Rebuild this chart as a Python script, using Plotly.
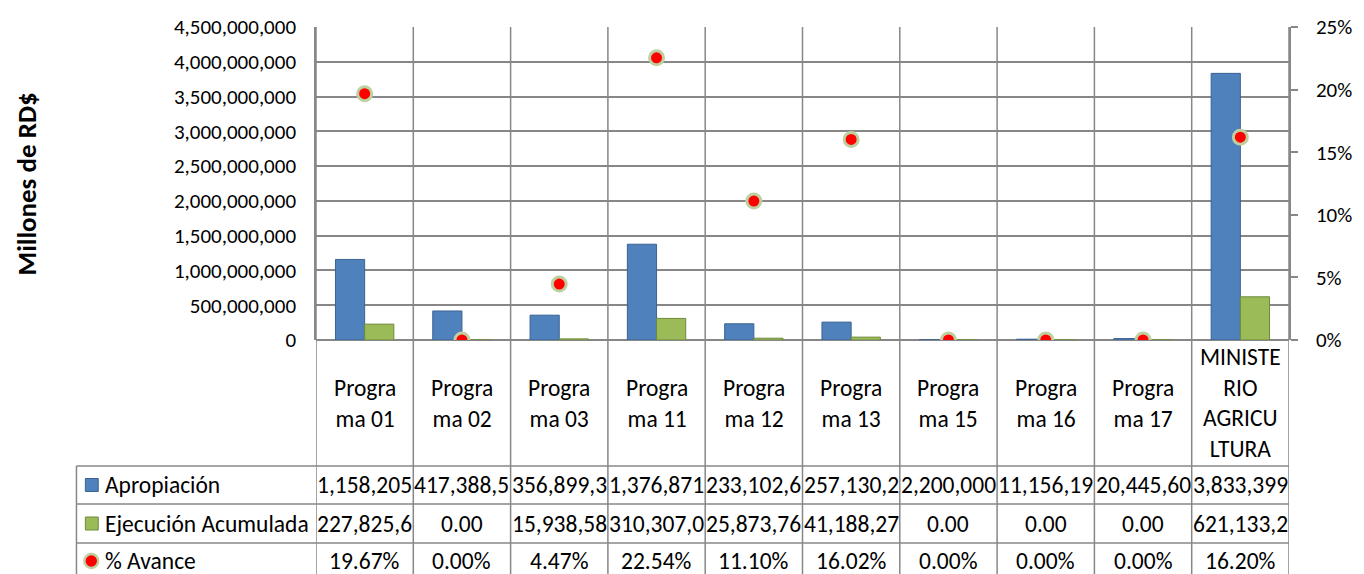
import plotly.graph_objects as go

# ---------------- data ----------------
categories = ["Programa 01", "Programa 02", "Programa 03", "Programa 11", "Programa 12",
              "Programa 13", "Programa 15", "Programa 16", "Programa 17", "MINISTERIO AGRICULTURA"]
header_labels = ["Progra<br>ma 01", "Progra<br>ma 02", "Progra<br>ma 03", "Progra<br>ma 11",
                 "Progra<br>ma 12", "Progra<br>ma 13", "Progra<br>ma 15", "Progra<br>ma 16",
                 "Progra<br>ma 17", "MINISTE<br>RIO<br>AGRICU<br>LTURA"]
apropiacion = [1158205400, 417388500, 356899300, 1376871000, 233102600,
               257130200, 2200000, 11156190, 20445600, 3833399000]
ejecucion = [227825600, 0, 15938580, 310307000, 25873760,
             41188270, 0, 0, 0, 621133200]
avance_pct = [19.67, 0.00, 4.47, 22.54, 11.10, 16.02, 0.00, 0.00, 0.00, 16.20]
series_names = ["Apropiación", "Ejecución Acumulada", "% Avance"]
y_title = "Millones de RD$"

# ---------------- style ----------------
FONT = "Carlito, Calibri, Lato, sans-serif"
GRID = "#878787"
BLUE = "#4F81BD"
BLUE_EDGE = "#3A6393"
GREEN = "#9BBB59"
GREEN_EDGE = "#6F8A3A"
RED = "#FF0000"
RING = "#BFD0A0"
TXT = 23.5
TICK = 21

W, H = 1364, 574
L, R, T, B = 316, 1299, 27, 340          # plot area in px
PW, PH = R - L, B - T


def px_x(X):
    return (X - L) / PW


def px_y(Y):
    return (B - Y) / PH


fig = go.Figure()
fig.add_trace(go.Bar(x=categories, y=apropiacion, name=series_names[0],
                     marker=dict(color=BLUE, line=dict(color=BLUE_EDGE, width=1))))
fig.add_trace(go.Bar(x=categories, y=ejecucion, name=series_names[1],
                     marker=dict(color=GREEN, line=dict(color=GREEN_EDGE, width=1))))
fig.add_trace(go.Scatter(x=categories, y=[p / 100 for p in avance_pct], name=series_names[2],
                         mode="markers", yaxis="y2",
                         marker=dict(color=RED, size=14, line=dict(color=RING, width=3))))

shapes = []
bottom = px_y(H + 20)
# vertical category boundaries, through plot, header and table
for i in range(len(categories) + 1):
    shapes.append(dict(type="line", xref="x", yref="paper", x0=i - 0.5, x1=i - 0.5,
                       y0=bottom, y1=1, line=dict(color=GRID, width=1.5), layer="below"))
# table horizontal lines
for Y in (466, 504, 543):
    shapes.append(dict(type="line", xref="paper", yref="paper", x0=px_x(74), x1=1,
                       y0=px_y(Y), y1=px_y(Y), line=dict(color=GRID, width=1.5)))
shapes.append(dict(type="line", xref="paper", yref="paper", x0=px_x(74), x1=px_x(74),
                   y0=bottom, y1=px_y(466), line=dict(color=GRID, width=1.5)))

# legend keys in table
row_y = [485, 523.5, 561]
shapes.append(dict(type="rect", xref="paper", yref="paper", x0=px_x(83), x1=px_x(96),
                   y0=px_y(row_y[0] + 6.5), y1=px_y(row_y[0] - 6.5),
                   fillcolor=BLUE, line=dict(color=BLUE_EDGE, width=1)))
shapes.append(dict(type="rect", xref="paper", yref="paper", x0=px_x(83), x1=px_x(96),
                   y0=px_y(row_y[1] + 6.5), y1=px_y(row_y[1] - 6.5),
                   fillcolor=GREEN, line=dict(color=GREEN_EDGE, width=1)))
shapes.append(dict(type="circle", xref="paper", yref="paper", x0=px_x(82), x1=px_x(96),
                   y0=px_y(row_y[2] + 7), y1=px_y(row_y[2] - 7),
                   fillcolor=RED, line=dict(color=RING, width=2.5)))

annotations = []
# y-axis title
annotations.append(dict(text=f"<b>{y_title}</b>", xref="paper", yref="paper",
                        x=px_x(24), y=0.5, textangle=-90, showarrow=False,
                        font=dict(family=FONT, size=27, color="black"),
                        xanchor="center", yanchor="middle"))
# header labels
for c, lab in zip(categories, header_labels):
    annotations.append(dict(text=lab, xref="x", yref="paper", x=c, y=px_y(403),
                            showarrow=False, font=dict(family=FONT, size=TXT, color="black"),
                            xanchor="center", yanchor="middle"))


def cell(v):
    return f"{v:,.2f}"[:9]


rows = [
    [cell(v) for v in apropiacion],
    [cell(v) for v in ejecucion],
    [f"{p:.2f}%" for p in avance_pct],
]
for r, (name, vals) in enumerate(zip(series_names, rows)):
    annotations.append(dict(text=name, xref="paper", yref="paper", x=px_x(101),
                            y=px_y(row_y[r]), showarrow=False, xanchor="left",
                            yanchor="middle", font=dict(family=FONT, size=TXT, color="black")))
    for c, t in zip(categories, vals):
        annotations.append(dict(text=t, xref="x", yref="paper", x=c, y=px_y(row_y[r]),
                                showarrow=False, xanchor="center", yanchor="middle",
                                font=dict(family=FONT, size=TXT, color="black")))

fig.update_layout(
    width=W, height=H,
    margin=dict(l=L, r=W - R, t=T, b=H - B, pad=0),
    paper_bgcolor="white", plot_bgcolor="white",
    barmode="group", bargap=0.4, bargroupgap=0,
    showlegend=False,
    font=dict(family=FONT, size=TICK, color="black"),
    xaxis=dict(showticklabels=False, showgrid=False, zeroline=False, showline=False,
               ticks="", range=[-0.5, len(categories) - 0.5]),
    yaxis=dict(range=[0, 4.5e9], dtick=5e8, tickformat=",d", showgrid=True,
               gridcolor=GRID, gridwidth=1.5, zeroline=True, zerolinecolor=GRID,
               zerolinewidth=1.5, showline=True, linecolor=GRID, linewidth=1.5,
               ticks="", ticklabelstandoff=14,
               tickfont=dict(family=FONT, size=TICK, color="black")),
    yaxis2=dict(range=[0, 0.25], dtick=0.05, tickformat=".0%", overlaying="y",
                side="right", showgrid=False, zeroline=False, showline=True,
                linecolor=GRID, linewidth=1.5, ticks="outside", ticklen=7,
                tickcolor=GRID, tickwidth=1.5, ticklabelstandoff=14,
                tickfont=dict(family=FONT, size=TICK, color="black")),
    shapes=shapes,
    annotations=annotations,
)

fig.write_html("out.html", config={"displayModeBar": False},
               post_script="document.body.style.margin='0';")
